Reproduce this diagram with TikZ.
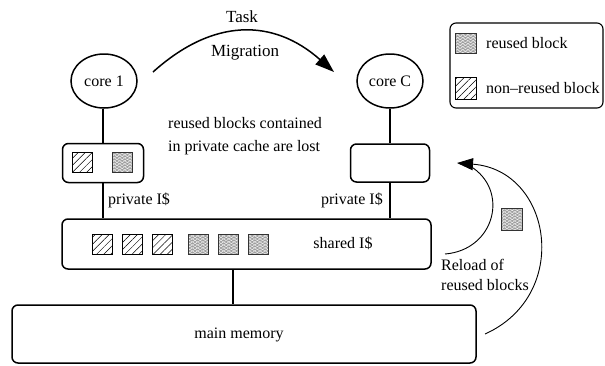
\documentclass[tikz,border=0pt]{standalone}
\usepackage{fontspec}
\setmainfont{Liberation Serif}
\usetikzlibrary{shapes.geometric,arrows.meta,patterns.meta}

\tikzset{
  txt/.style={font=\fontsize{16}{19}\selectfont, inner sep=0pt},
  bigtxt/.style={font=\fontsize{17}{20}\selectfont, inner sep=0pt},
  core/.style={draw, line width=1.5pt, ellipse, inner sep=0pt, minimum width=66pt, minimum height=54pt, font=\fontsize{16}{19}\selectfont},
  cachebox/.style={draw, line width=1.5pt, rounded corners=6pt, inner sep=0pt},
  wire/.style={line width=1.5pt},
  blk/.style={draw, line width=0.6pt, minimum width=20pt, minimum height=20pt, inner sep=0pt},
  oldblk/.style={blk, pattern={Lines[angle=45, distance=5pt, line width=0.5pt]}},
  newblk/.style={blk, draw=black!80, preaction={fill=gray!75},
    preaction={pattern={Lines[angle=30, distance=2.6pt, line width=0.35pt]}, pattern color=white},
    preaction={pattern={Lines[angle=-30, distance=2.6pt, line width=0.35pt]}, pattern color=white}},
  thin/.style={line width=0.9pt},
}

\begin{document}
\begin{tikzpicture}[x=1pt, y=-1pt]
\useasboundingbox (0,0) rectangle (605,365);

% cores
\node[core] (core1) at (104,81) {core 1};
\node[core] (coreC) at (390,81) {core C};

% private caches
\node[cachebox, minimum width=81pt, minimum height=39pt] (priv1) at (103,163) {};
\node[cachebox, minimum width=79pt, minimum height=38pt] (privC) at (390,163) {};

% shared cache and memory
\node[cachebox, minimum width=369pt, minimum height=50pt] (shared) at (246.5,244) {};
\node[cachebox, minimum width=464pt, minimum height=58pt] (mem) at (244,334) {};
\node[txt] (sharedlbl) at (343,243) {shared I\$};
\node[txt] (memlbl) at (239,335) {main memory};

% wires
\draw[wire] (priv1.north) -- (priv1.north |- core1.south);
\draw[wire] (privC.north) -- (privC.north |- coreC.south);
\draw[wire] (priv1.south) -- (priv1.south |- shared.north);
\draw[wire] (privC.south) -- (privC.south |- shared.north);
\draw[wire] ([xshift=-13.5pt]shared.south) -- ([xshift=-13.5pt]shared.south |- mem.north);

\node[txt, anchor=west] (pl1) at (108,200) {private I\$};
\node[txt, anchor=east] (plC) at (383,200) {private I\$};

% blocks in the private cache of core 1
\node[oldblk] (p1a) at (82,162) {};
\node[newblk] (p1b) at (122,162) {};

% blocks in the shared cache
\node[oldblk] (s1) at (102,244) {};
\node[oldblk] (s2) at (132,244) {};
\node[oldblk] (s3) at (162,244) {};
\node[newblk] (s4) at (198,244) {};
\node[newblk] (s5) at (228,244) {};
\node[newblk] (s6) at (258,244) {};

% task migration
\coordinate (mstart) at (153,72);
\coordinate (mend) at (334,72);
\draw[line width=1.5pt, -{Triangle[length=19pt, width=13pt]}]
  (mstart) .. controls (213,18) and (273,18) .. (mend);
\node[bigtxt] (task) at (242,17) {Task};
\node[bigtxt] (migr) at (245,53) {Migration};

\node[txt, anchor=west] (lost1) at (168,123) {reused blocks contained};
\node[txt, anchor=west] (lost2) at (168,148) {in private cache are lost};

% reload of reused blocks
\coordinate (rtip) at (457,163);
\coordinate (rin) at (445,254);
\coordinate (rout) at (485,334);
\draw[thin] (rin) .. controls (495,250) and (510,190) .. (470,166);
\draw[thin, -{Triangle[length=16pt, width=12pt]}] (rout) .. controls (572,295) and (552,170) .. (rtip);
\node[newblk, minimum width=21pt, minimum height=22pt] (rblk) at (511.5,219) {};
\node[txt, anchor=west] (rl1) at (441,265) {Reload of};
\node[txt, anchor=west] (rl2) at (441,285) {reused blocks};

% legend
\node[cachebox, line width=1.1pt, minimum width=153pt, minimum height=85pt] (legend) at (526.5,65.5) {};
\node[newblk, minimum width=21pt] (lgnew) at (465.5,43) {};
\node[oldblk, minimum width=21pt, minimum height=22pt] (lgold) at (465.5,88) {};
\node[txt, anchor=west] (lgnewtxt) at (486,43) {reused block};
\node[txt, anchor=west] (lgoldtxt) at (486,88) {non–reused block};
\end{tikzpicture}
\end{document}
